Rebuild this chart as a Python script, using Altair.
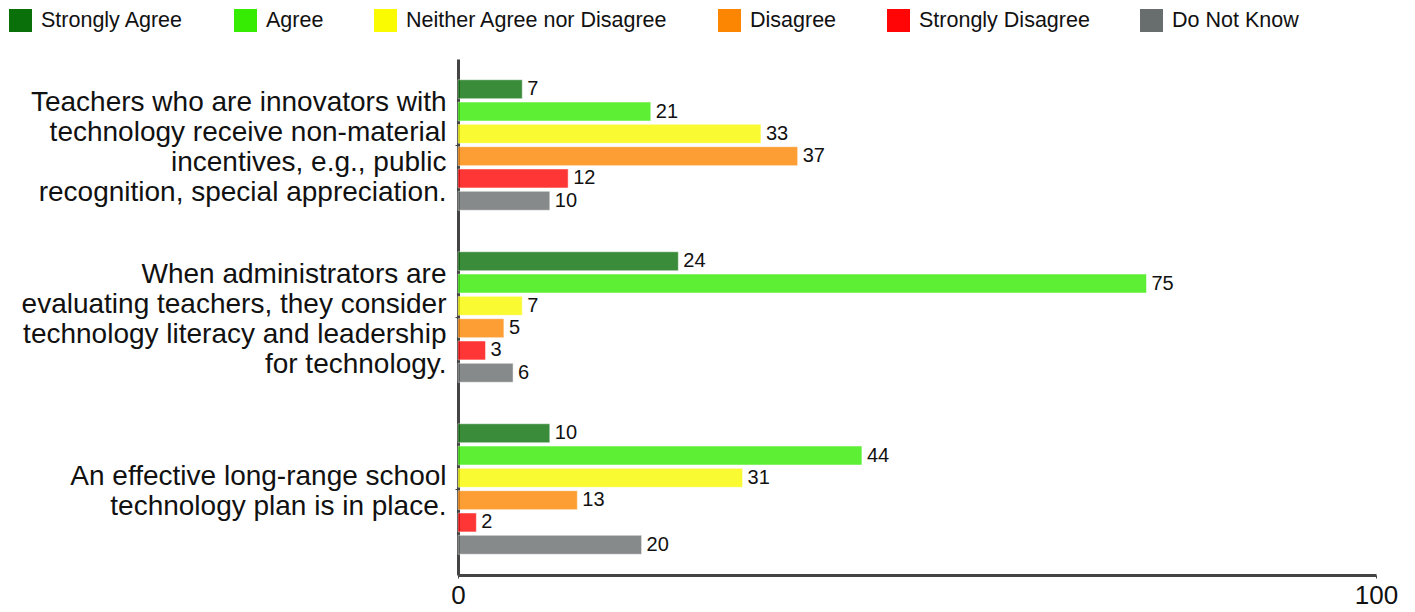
import altair as alt
import pandas as pd

questions = [
    "Teachers who are innovators with|technology receive non-material|incentives, e.g., public|recognition, special appreciation.",
    "When administrators are|evaluating teachers, they consider|technology literacy and leadership|for technology.",
    "An effective long-range school|technology plan is in place.",
]
categories = ["Strongly Agree", "Agree", "Neither Agree nor Disagree",
              "Disagree", "Strongly Disagree", "Do Not Know"]
colors = ["#0a700a", "#35ec02", "#fafa00", "#fc8602", "#ff0505", "#686d6d"]

values_q1 = [7, 21, 33, 37, 12, 10]
values_q2 = [24, 75, 7, 5, 3, 6]
values_q3 = [10, 44, 31, 13, 2, 20]

rows = []
for q, vals in zip(questions, [values_q1, values_q2, values_q3]):
    for c, v in zip(categories, vals):
        rows.append({"question": q, "category": c, "value": v})
df = pd.DataFrame(rows)

FONT = "Liberation Sans"
LINE_H = 30.3

y_enc = alt.Y("question:N", sort=questions,
              scale=alt.Scale(paddingInner=0, paddingOuter=0),
              axis=alt.Axis(title=None, labelExpr="split(datum.label, '|')",
                            labelFontSize=28, labelLineHeight=LINE_H, labelLimit=0,
                            labelPadding=9, labelColor="#111", labelFont=FONT,
                            labelOffset={"condition": {"test": "length(split(datum.value, '|')) == 2",
                                                       "value": -LINE_H / 2 + 3},
                                         "value": -LINE_H * 1.5 + 3},
                            domainColor="#444", domainWidth=3, tickSize=3,
                            tickColor="#444", tickWidth=1))
yoff_enc = alt.YOffset("category:N", sort=categories,
                       scale=alt.Scale(paddingInner=0.15, paddingOuter=0.93))
x_enc = alt.X("value:Q", scale=alt.Scale(domain=[0, 100], nice=False),
              axis=alt.Axis(title=None, values=[0, 100], grid=False,
                            labelFontSize=26, labelPadding=4, labelColor="#111",
                            labelFont=FONT, domainColor="#444", domainWidth=3,
                            tickSize=3, tickColor="#444", labelFlush=False))

bars = alt.Chart(df).mark_bar(opacity=0.8, stroke="#ffffff", strokeWidth=0.5).encode(
    y=y_enc, yOffset=yoff_enc, x=x_enc,
    color=alt.Color("category:N", sort=categories,
                    scale=alt.Scale(domain=categories, range=colors),
                    legend=alt.Legend(title=None, orient="none", direction="horizontal",
                                      legendX=-449, legendY=-50, padding=0,
                                      symbolType="square", symbolSize=529,
                                      symbolOpacity=1, symbolStrokeWidth=0,
                                      labelFontSize=21.5, labelFont=FONT,
                                      labelColor="#111", labelOffset=9,
                                      columnPadding=50, labelLimit=0)),
)

labels = alt.Chart(df).mark_text(align="left", baseline="middle", dx=5,
                                 fontSize=20, font=FONT, color="#111").encode(
    y=alt.Y("question:N", sort=questions), yOffset=alt.YOffset("category:N", sort=categories),
    x="value:Q", text="value:Q",
)

chart = (bars + labels).properties(
    width=918, height=516,
    autosize=alt.AutoSizeParams(type="none"),
    padding={"left": 458, "top": 59, "right": 39, "bottom": 37},
    background="white",
).configure_view(stroke=None, strokeWidth=0)

chart.save("out.html", embed_options={"renderer": "svg", "actions": False})
